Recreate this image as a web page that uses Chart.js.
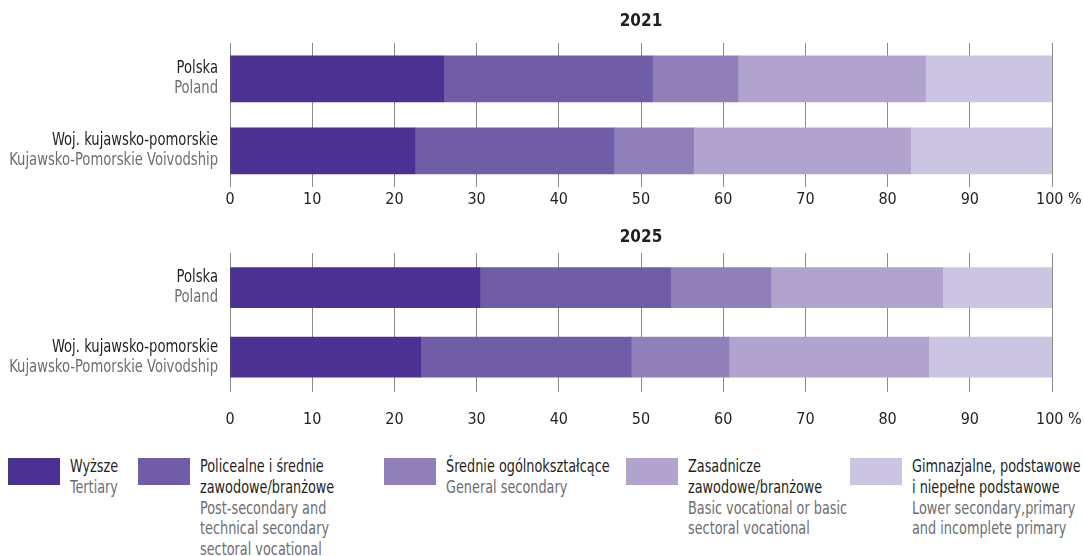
<!DOCTYPE html>
<html>
<head>
<meta charset="utf-8">
<script src="https://cdn.jsdelivr.net/npm/chart.js@4.4.1/dist/chart.umd.min.js"></script>
<style>
  html, body { margin: 0; padding: 0; background: #fff; }
  body { width: 1084px; height: 556px; position: relative; overflow: hidden;
         font-family: 'DejaVu Sans Condensed', 'DejaVu Sans', sans-serif; }
  canvas { position: absolute; left: 0; }
  #c1 { top: 0; }
  #c2 { top: 215px; }
  .leg { position: absolute; top: 458px; }
  .sw { position: absolute; left: 0; top: 0; width: 52px; height: 27px; }
  .tx { position: absolute; left: 62px; top: -2px; font-size: 17px; line-height: 20.8px; white-space: nowrap;
        transform: scaleX(0.84); transform-origin: left top; }
  .pl { color: #231f20; }
  .en { color: #6d6e71; }
</style>
</head>
<body>
<canvas id="c1" width="1084" height="210"></canvas>
<canvas id="c2" width="1084" height="215"></canvas>
<div id="legend"></div>
<script>
// ---- data ----
const regionsPL = ['Polska', 'Woj. kujawsko-pomorskie'];
const regionsEN = ['Poland', 'Kujawsko-Pomorskie Voivodship'];
const years = ['2021', '2025'];
const seriesPL = ['Wyższe', 'Policealne i średnie\nzawodowe/branżowe', 'Średnie ogólnokształcące', 'Zasadnicze\nzawodowe/branżowe', 'Gimnazjalne, podstawowe\ni niepełne podstawowe'];
const seriesEN = ['Tertiary', 'Post-secondary and\ntechnical secondary\nsectoral vocational', 'General secondary', 'Basic vocational or basic\nsectoral vocational', 'Lower secondary,primary\nand incomplete primary'];
const colors = ['#4b3191', '#6f5ea7', '#8f80ba', '#b0a3ce', '#cbc5e1'];
// values per series: [Polska, Kujawsko-pomorskie]
const tertiary2021 = [26.0, 22.5];
const postSec2021 = [25.4, 24.2];
const general2021 = [10.4, 9.7];
const basicVoc2021 = [22.8, 26.4];
const primary2021 = [15.4, 17.2];
const tertiary2025 = [30.4, 23.2];
const postSec2025 = [23.2, 25.6];
const general2025 = [12.2, 11.9];
const basicVoc2025 = [20.9, 24.3];
const primary2025 = [13.3, 15.0];
const xTicks = [0, 10, 20, 30, 40, 50, 60, 70, 80, 90, 100];

const FONT = "'DejaVu Sans Condensed', 'DejaVu Sans', sans-serif";
const DARK = '#231f20', GREY = '#6d6e71';
const SQUEEZE = 0.86;

const labelPlugin = {
  id: 'twoLineLabels',
  afterDraw(chart, args, opts) {
    const ctx = chart.ctx, y = chart.scales.y;
    ctx.save();
    ctx.textAlign = 'right';
    ctx.textBaseline = 'middle';
    ctx.font = '17px ' + FONT;
    const x0 = chart.chartArea.left - 12;
    regionsPL.forEach((lab, i) => {
      const cy = y.getPixelForValue(i);
      ctx.save();
      ctx.translate(x0, cy - 10);
      ctx.scale(SQUEEZE, 1);
      ctx.fillStyle = DARK;
      ctx.fillText(lab, 0, 0);
      ctx.restore();
      ctx.save();
      ctx.translate(x0, cy + 10);
      ctx.scale(SQUEEZE, 1);
      ctx.fillStyle = GREY;
      ctx.fillText(regionsEN[i], 0, 0);
      ctx.restore();
    });
    // title centered over plot area
    ctx.textAlign = 'center';
    ctx.fillStyle = DARK;
    ctx.font = 'bold 17px ' + FONT;
    ctx.fillText(opts.title, (chart.chartArea.left + chart.chartArea.right) / 2, opts.titleY);
    ctx.restore();
  }
};

function makeChart(id, sets, opts) {
  return new Chart(document.getElementById(id), {
    type: 'bar',
    data: {
      labels: regionsPL,
      datasets: sets.map((d, i) => ({
        label: seriesPL[i].replace('\n', ' '),
        data: d,
        backgroundColor: colors[i],
        borderWidth: 0,
        barThickness: opts.thick
      }))
    },
    options: {
      indexAxis: 'y',
      responsive: false,
      animation: false,
      layout: { padding: { left: 230, right: 32, top: opts.top, bottom: 0 } },
      plugins: {
        legend: { display: false },
        tooltip: { enabled: false },
        twoLineLabels: { title: opts.title, titleY: opts.titleY }
      },
      scales: {
        x: {
          stacked: true, min: 0, max: 100,
          afterBuildTicks: s => { s.ticks = xTicks.map(v => ({ value: v })); },
          ticks: {
            color: DARK, padding: 1,
            font: { family: FONT, size: 16 },
            maxRotation: 0, autoSkip: false,
            callback: v => v === 100 ? '   100 %' : String(v)
          },
          grid: { color: '#8a8a8a', lineWidth: 1, drawTicks: true, tickLength: opts.gap, tickColor: 'rgba(0,0,0,0)' },
          border: { display: false }
        },
        y: {
          display: false,
          stacked: true
        }
      }
    },
    plugins: [labelPlugin]
  });
}

makeChart('c1', [tertiary2021, postSec2021, general2021, basicVoc2021, primary2021],
  { top: 43, thick: 46, gap: 2, title: years[0], titleY: 22 });
makeChart('c2', [tertiary2025, postSec2025, general2025, basicVoc2025, primary2025],
  { top: 38, thick: 40, gap: 17, title: years[1], titleY: 23 });

// ---- HTML legend ----
const legX = [8, 138, 384, 626, 850];
const leg = document.getElementById('legend');
seriesPL.forEach((s, i) => {
  const d = document.createElement('div');
  d.className = 'leg';
  d.style.left = legX[i] + 'px';
  d.innerHTML = '<div class="sw" style="background:' + colors[i] + '"></div>' +
    '<div class="tx"><span class="pl">' + s.replace(/\n/g, '<br>') + '</span><br>' +
    '<span class="en">' + seriesEN[i].replace(/\n/g, '<br>') + '</span></div>';
  leg.appendChild(d);
});
</script>
</body>
</html>
